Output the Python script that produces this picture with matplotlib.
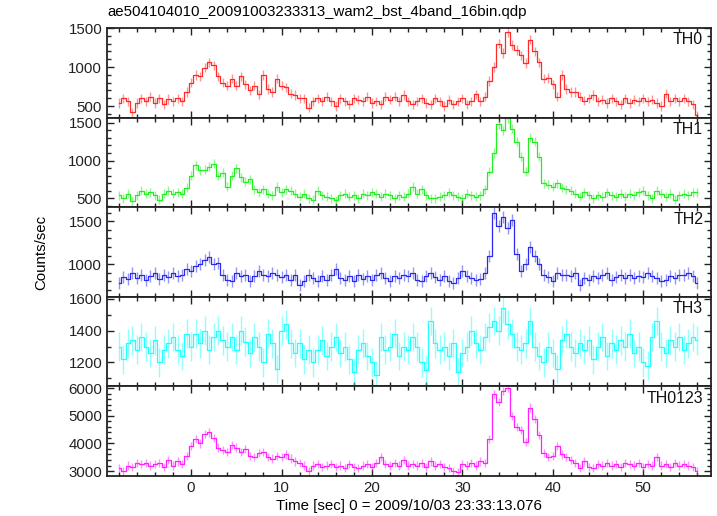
import numpy as np
import matplotlib
matplotlib.use("Agg")
import matplotlib.pyplot as plt
from matplotlib.ticker import MultipleLocator

plt.rcParams['font.family'] = ['Liberation Sans', 'DejaVu Sans']

# time bins (s), 0.5 s spacing from -8 to 56
time = np.arange(-8.0, 56.01, 0.5)

th0 = [540, 600, 560, 420, 540, 600, 560, 620, 540, 600, 520, 590, 560, 600, 560, 680,
       800, 900, 880, 990, 1060, 1020, 880, 800, 760, 850, 760, 880, 780, 700, 760, 650,
       900, 720, 680, 850, 760, 740, 660, 640, 600, 600, 480, 560, 600, 560, 620, 560,
       500, 600, 560, 520, 600, 580, 560, 620, 540, 560, 520, 620, 580, 620, 560, 640,
       560, 520, 560, 600, 540, 520, 600, 560, 500, 580, 520, 560, 600, 520, 560, 650,
       560, 620, 820, 1000, 1300, 1180, 1450, 1280, 1220, 1150, 1050, 1350, 1200, 1060, 850, 860,
       780, 620, 900, 720, 680, 680, 620, 570, 600, 640, 560, 580, 540, 600, 560, 520,
       600, 540, 580, 560, 600, 560, 580, 540, 500, 660, 560, 600, 560, 600, 560, 520,
       380]

th1 = [540, 500, 560, 460, 540, 600, 560, 580, 540, 480, 560, 600, 560, 580, 560, 640,
       800, 940, 870, 880, 920, 960, 800, 840, 650, 800, 900, 780, 720, 750, 620, 580,
       620, 560, 540, 650, 580, 620, 600, 560, 520, 560, 500, 480, 600, 540, 520, 500,
       470, 540, 560, 520, 540, 500, 560, 540, 580, 560, 520, 560, 540, 500, 540, 520,
       560, 650, 560, 620, 540, 500, 500, 520, 540, 580, 540, 520, 500, 560, 540, 520,
       540, 620, 850, 1100, 1480, 1400, 1560, 1420, 1250, 1050, 850, 1300, 1250, 1050, 700, 680,
       650, 700, 640, 620, 600, 560, 520, 580, 540, 500, 540, 520, 580, 540, 520, 560,
       520, 560, 540, 580, 600, 540, 500, 600, 560, 520, 560, 480, 540, 560, 540, 580,
       580]

th2 = [780, 850, 830, 900, 840, 880, 820, 860, 900, 830, 880, 850, 900, 860, 880, 940,
       920, 980, 1000, 1050, 1080, 1000, 1020, 880, 820, 800, 900, 860, 880, 800, 860, 920,
       880, 860, 900, 880, 850, 870, 820, 880, 760, 800, 880, 840, 800, 860, 820, 880,
       940, 840, 820, 860, 800, 880, 830, 860, 820, 880, 900, 840, 800, 860, 840, 880,
       860, 900, 820, 800, 860, 900, 850, 820, 860, 800, 780, 840, 920, 860, 840, 820,
       830, 900, 1100, 1600, 1450, 1550, 1420, 1520, 1120, 920, 1000, 1200, 1100, 1000, 880, 850,
       800, 900, 880, 870, 860, 900, 760, 840, 820, 860, 840, 880, 900, 820, 850, 880,
       840, 870, 840, 860, 850, 900, 860, 840, 800, 820, 860, 840, 880, 870, 900, 860,
       780]

th3 = [1300, 1220, 1320, 1340, 1280, 1360, 1300, 1260, 1340, 1200, 1280, 1320, 1360, 1280, 1240, 1380,
       1300, 1380, 1320, 1400, 1280, 1360, 1400, 1340, 1300, 1360, 1280, 1400, 1330, 1260, 1360, 1300,
       1200, 1380, 1320, 1160, 1400, 1440, 1320, 1260, 1320, 1220, 1280, 1200, 1280, 1340, 1240, 1300,
       1360, 1260, 1300, 1220, 1140, 1280, 1320, 1240, 1200, 1120, 1360, 1280, 1300, 1380, 1240, 1300,
       1280, 1360, 1300, 1200, 1150, 1460, 1320, 1280, 1300, 1240, 1320, 1140, 1260, 1300, 1400, 1320,
       1280, 1360, 1420, 1460, 1400, 1540, 1440, 1380, 1300, 1280, 1320, 1460, 1300, 1240, 1200, 1300,
       1260, 1160, 1340, 1380, 1300, 1260, 1320, 1280, 1340, 1220, 1300, 1360, 1240, 1320, 1280, 1340,
       1300, 1380, 1260, 1300, 1200, 1180, 1360, 1460, 1300, 1260, 1340, 1300, 1360, 1280, 1320, 1360,
       1340]

th0123 = [3100, 3000, 3200, 3150, 3300, 3250, 3300, 3200, 3250, 3300, 3150, 3400, 3200, 3350, 3250, 3550,
          3900, 4150, 4000, 4350, 4400, 4200, 3850, 3750, 3700, 3950, 3850, 3700, 3800, 3550, 3500, 3650,
          3700, 3500, 3450, 3550, 3500, 3600, 3450, 3350, 3300, 3200, 3000, 3200, 3250, 3150, 3200, 3250,
          3150, 3200, 3100, 3250, 3150, 3100, 3200, 3250, 3150, 3300, 3500, 3250, 3200, 3300, 3200, 3400,
          3200, 3250, 3200, 3300, 3150, 3350, 3200, 3250, 3150, 3100, 3000, 2950, 3250, 3200, 3300, 3200,
          3350, 3300, 4150, 5800, 5500, 5900, 6000, 5000, 4600, 4500, 4050, 5300, 4900, 4300, 3650, 3500,
          3550, 3900, 3600, 3500, 3400, 3300, 3100, 3350, 3150, 3100, 3250, 3200, 3300, 3200, 3250, 3150,
          3300, 3250, 3200, 3300, 3150, 3250, 3200, 3500, 3200, 3250, 3150, 3300, 3200, 3250, 3200, 3150,
          3000]

labels = ["TH0", "TH1", "TH2", "TH3", "TH0123"]
series = [th0, th1, th2, th3, th0123]
errors = [60, 60, 70, 90, 150]
colors = ["#ff2a2a", "#22ee22", "#2a2aee", "#22ffff", "#ff22ff"]
ylims = [(352, 1500), (380, 1570), (620, 1665), (1050, 1612), (2820, 6070)]
majors = [500, 500, 500, 200, 1000]
minors = [100, 100, 100, 100, 200]

fig = plt.figure(figsize=(7.17, 5.16), dpi=100)
left, right = 107 / 717, 711 / 717
top, bottom = 1 - 28 / 516, 1 - 476 / 516
h = (top - bottom) / 5

axes = []
for i in range(5):
    y0 = top - (i + 1) * h
    ax = fig.add_axes([left, y0, right - left, h])
    axes.append(ax)
    y = np.array(series[i], dtype=float)
    ax.errorbar(time, y, yerr=errors[i], fmt='none', ecolor=colors[i],
                alpha=0.5, elinewidth=1.0, capsize=0)
    ax.plot(time, y, drawstyle='steps-mid', color=colors[i], lw=0.9)
    ax.set_xlim(-9.3, 57.5)
    ax.set_ylim(*ylims[i])
    ax.yaxis.set_major_locator(MultipleLocator(majors[i]))
    ax.yaxis.set_minor_locator(MultipleLocator(minors[i]))
    ax.xaxis.set_major_locator(MultipleLocator(10))
    ax.xaxis.set_minor_locator(MultipleLocator(2))
    ax.tick_params(which='both', direction='in', top=True, right=True,
                   labelsize=10.8, colors='#222222')
    ax.tick_params(which='major', length=5, width=1.0)
    ax.tick_params(which='minor', length=3, width=1.0)
    for sp in ax.spines.values():
        sp.set_linewidth(1.3)
        sp.set_color('#222222')
    if i < 4:
        ax.tick_params(labelbottom=False)
    ax.text(0.987, 0.95, labels[i], transform=ax.transAxes, ha='right', va='top',
            fontsize=11.5, color='#111111')

axes[-1].set_xlabel("Time [sec] 0 = 2009/10/03 23:33:13.076", fontsize=10.8, labelpad=3)
fig.text(left, 1 - 12 / 516, "ae504104010_20091003233313_wam2_bst_4band_16bin.qdp",
         ha='left', va='center', fontsize=10.8)
fig.text(41 / 717, 1 - 252 / 516, "Counts/sec", rotation=90, ha='center', va='center',
         fontsize=10.8)

fig.savefig("out.png", dpi=100)
